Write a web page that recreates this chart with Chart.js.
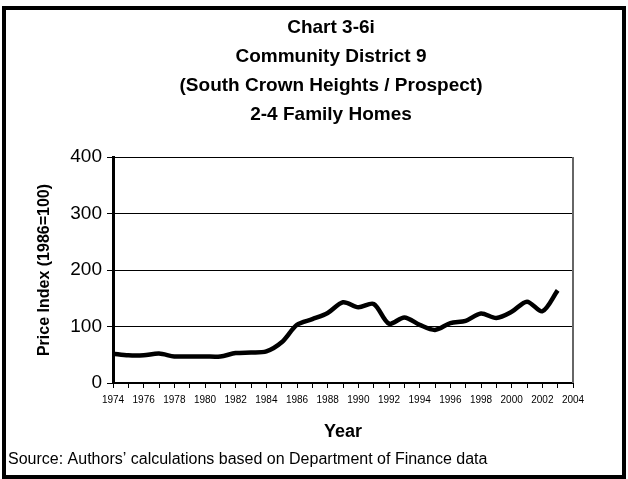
<!DOCTYPE html>
<html>
<head>
<meta charset="utf-8">
<style>
  body { margin: 0; background: #fff; }
</style>
</head>
<body>
<canvas id="myChart" width="628" height="479"></canvas>

<script src="https://cdn.jsdelivr.net/npm/chart.js"></script>
<script>
    // Data (price index, 1986=100)
    var years = [1974, 1975, 1976, 1977, 1978, 1979, 1980, 1981, 1982, 1983,
                 1984, 1985, 1986, 1987, 1988, 1989, 1990, 1991, 1992, 1993,
                 1994, 1995, 1996, 1997, 1998, 1999, 2000, 2001, 2002, 2003];
    var priceIndex = [52, 49, 49, 52, 47, 47, 47, 47, 53, 54,
                      56, 72, 103, 113, 124, 143, 134, 140, 105, 116,
                      103, 94, 106, 110, 123, 115, 126, 144, 127, 164];
    var yTicks = [0, 100, 200, 300, 400];
    var titleLines = ['Chart 3-6i', 'Community District 9', '(South Crown Heights / Prospect)', '2-4 Family Homes'];
    var sourceText = 'Source: Authors\u2019 calculations based on Department of Finance data';

    var FONT = 'Arial, "Liberation Sans", sans-serif';

    // titles, source line, outer frame and right plot edge
    var decorPlugin = {
        id: 'decor',
        afterDraw: function(chart) {
            var ctx = chart.ctx;
            var area = chart.chartArea;
            ctx.save();
            ctx.fillStyle = '#000';
            ctx.textAlign = 'center';
            ctx.textBaseline = 'middle';
            ctx.font = 'bold 19px ' + FONT;
            titleLines.forEach(function(line, i) {
                ctx.fillText(line, 331, 28 + i * 29);
            });
            ctx.textAlign = 'left';
            ctx.font = '16px ' + FONT;
            ctx.fillText(sourceText, 8, 460);

            // right edge of plot area
            ctx.strokeStyle = '#666';
            ctx.lineWidth = 2;
            ctx.beginPath();
            ctx.moveTo(area.right, area.top);
            ctx.lineTo(area.right, area.bottom);
            ctx.stroke();

            // outer frame
            ctx.strokeStyle = '#000';
            ctx.lineWidth = 4;
            ctx.strokeRect(4, 8, 620, 469);
            ctx.restore();
        }
    };

    var ctx = document.getElementById('myChart').getContext('2d');
    var chart = new Chart(ctx, {
        type: 'line',
        data: {
            datasets: [{
                label: 'Price Index',
                data: years.map(function(y, i) { return { x: y, y: priceIndex[i] }; }),
                borderColor: '#000',
                borderWidth: 4.5,
                pointRadius: 0,
                tension: 0.3,
                fill: false
            }]
        },
        options: {
            responsive: false,
            animation: false,
            devicePixelRatio: 1,
            layout: { padding: { top: 157, right: 55, bottom: 0, left: 0 } },
            plugins: {
                legend: { display: false },
                title: { display: false },
                tooltip: { enabled: false }
            },
            scales: {
                x: {
                    type: 'linear',
                    min: 1974,
                    max: 2004,
                    afterFit: function(scale) { scale.height = 96; },
                    ticks: {
                        stepSize: 1,
                        autoSkip: false,
                        maxRotation: 0,
                        minRotation: 0,
                        padding: 6,
                        color: '#000',
                        font: { family: FONT, size: 10 },
                        callback: function(v) { return v % 2 === 0 ? String(v) : ''; }
                    },
                    grid: {
                        drawOnChartArea: false,
                        drawTicks: true,
                        tickLength: 5,
                        color: '#000',
                        lineWidth: 1
                    },
                    border: { display: true, color: '#000', width: 2 },
                    title: {
                        display: true,
                        text: 'Year',
                        color: '#000',
                        font: { family: FONT, size: 18, weight: 'bold' },
                        padding: { top: 0, bottom: 36 }
                    }
                },
                y: {
                    min: 0,
                    max: 400,
                    afterFit: function(scale) { scale.width = 113; },
                    afterBuildTicks: function(scale) {
                        scale.ticks = yTicks.map(function(v) { return { value: v }; });
                    },
                    ticks: {
                        padding: 5,
                        color: '#000',
                        font: { family: FONT, size: 19 },
                        callback: function(v) { return String(v); }
                    },
                    grid: {
                        drawTicks: true,
                        tickLength: 6,
                        color: '#000',
                        lineWidth: 1
                    },
                    border: { display: true, color: '#000', width: 3 },
                    title: {
                        display: true,
                        text: 'Price Index (1986=100)',
                        color: '#000',
                        font: { family: FONT, size: 16, weight: 'bold' },
                        padding: { top: 35, bottom: 0 }
                    }
                }
            }
        },
        plugins: [decorPlugin]
    });
</script>
</body>
</html>
